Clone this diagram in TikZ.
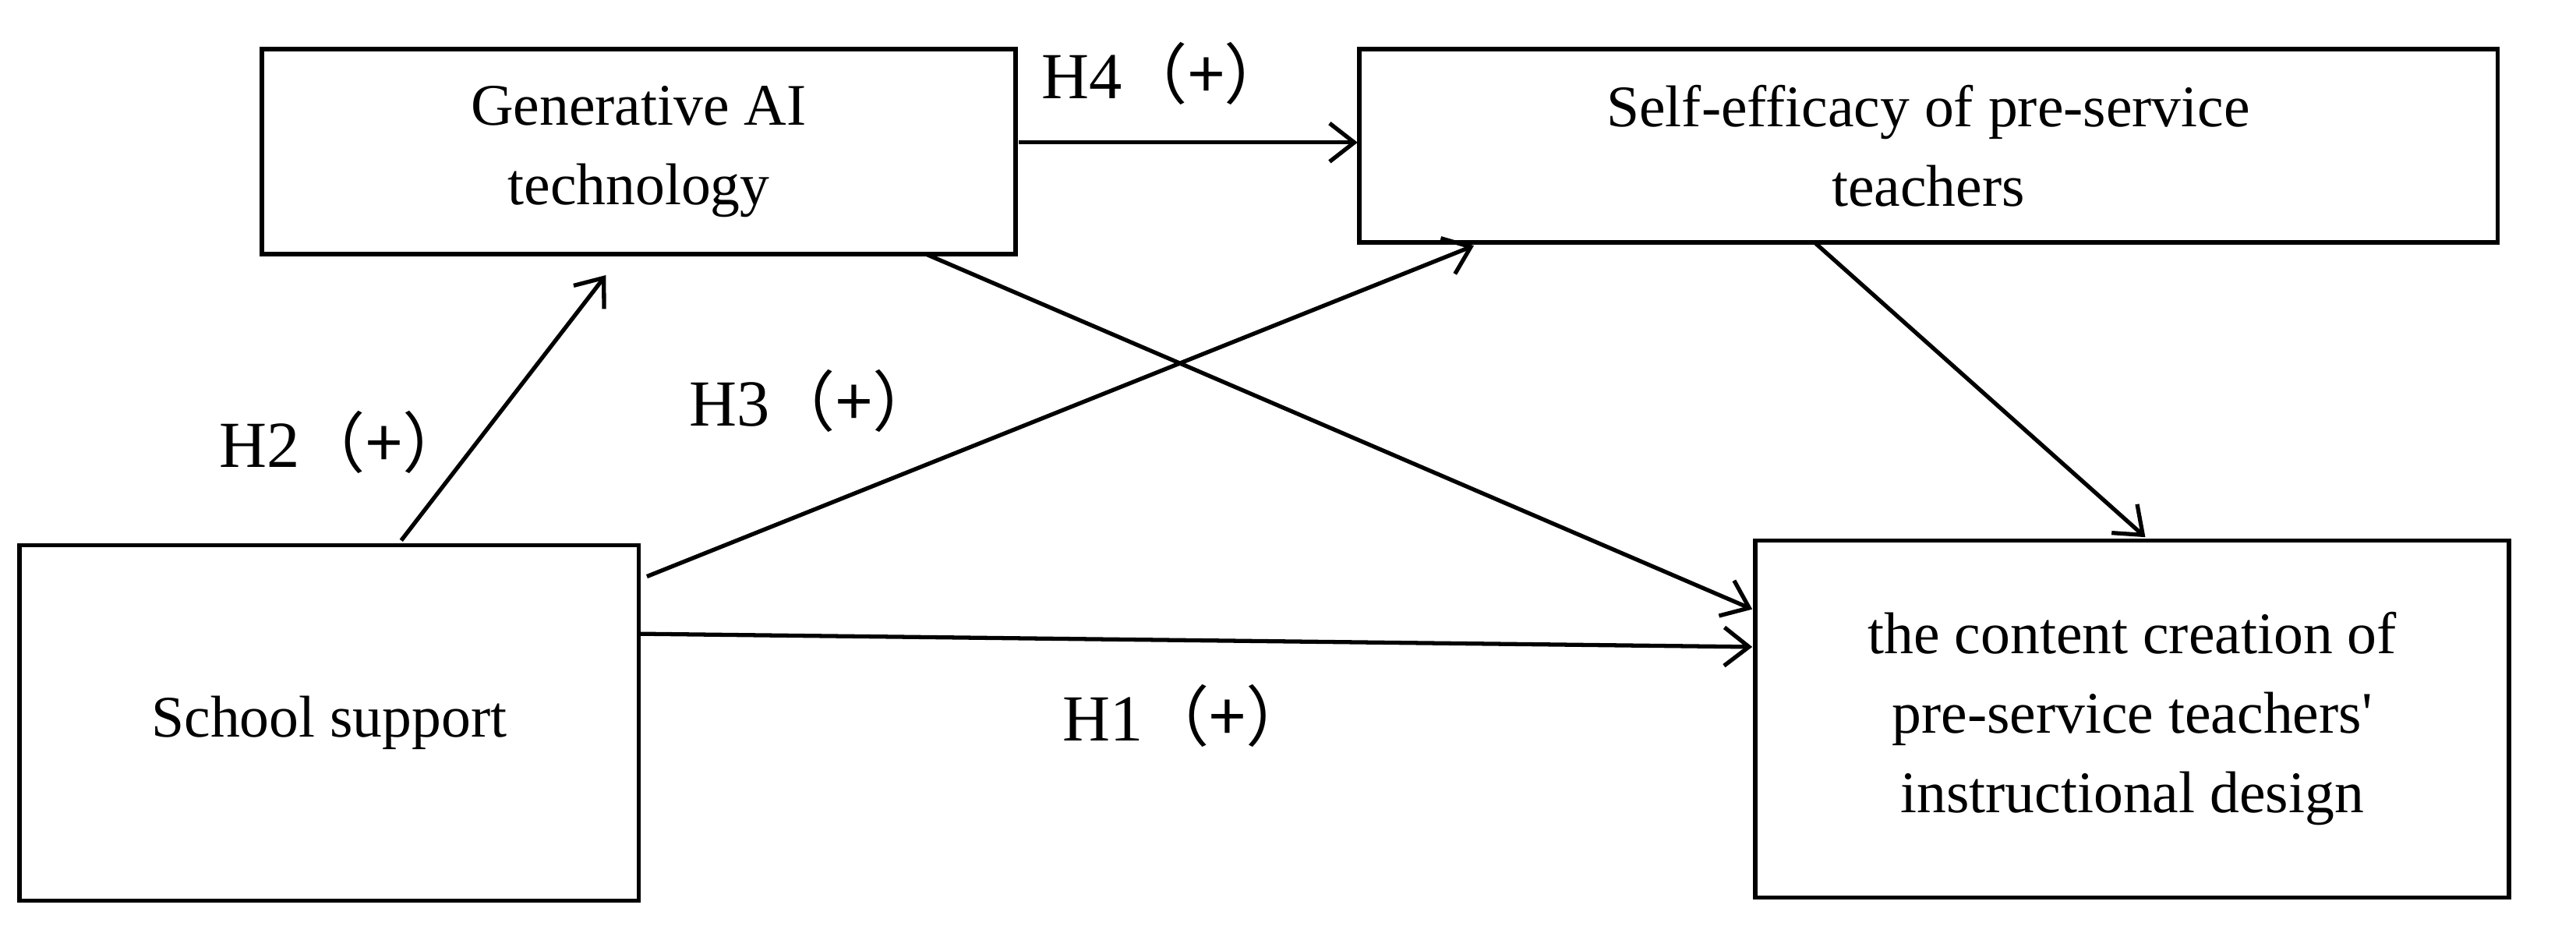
\documentclass[tikz,border=0pt]{standalone}
\usepackage{fontspec}
\setmainfont{Liberation Serif}
\newfontfamily\cjk{Noto Sans CJK SC}
\usetikzlibrary{arrows.meta}
\begin{document}
\begin{tikzpicture}[x=0.021cm,y=-0.021cm,
 box/.style={draw,line width=1.6pt,align=center,font=\fontsize{21.5}{29}\selectfont,inner sep=0pt},
 arr/.style={line width=1.5pt,-{Straight Barb[length=9pt,width=14pt,line width=1.5pt]}},
 lab/.style={font=\fontsize{24}{28}\selectfont}]
\useasboundingbox (0,0) rectangle (1573,565);
\node[box,minimum width=9.66cm,minimum height=2.625cm] (g) at (390,92.5) {Generative AI\\technology};
\node[box,minimum width=14.595cm,minimum height=2.478cm] (s) at (1177.5,89) {Self-efficacy of pre-service\\teachers};
\node[box,minimum width=7.938cm,minimum height=4.557cm] (sc) at (201,441.5) {School support};
\node[box,minimum width=9.66cm,minimum height=4.578cm] (c) at (1302,439) {the content creation of\\pre-service teachers\textquotesingle\\instructional design};
\coordinate (s1) at (622,87); \coordinate (e1) at (829,87);
\coordinate (s2) at (245,330); \coordinate (e2) at (370,168);
\coordinate (s3) at (395,352); \coordinate (e3) at (900,150);
\coordinate (s4) at (565,155); \coordinate (e4) at (1070,372);
\coordinate (s5) at (390,387); \coordinate (e5) at (1070,395);
\coordinate (s6) at (1108,148); \coordinate (e6) at (1310,328);
\draw[arr] (s1) -- (e1);
\draw[arr] (s2) -- (e2);
\draw[arr] (s3) -- (e3);
\draw[arr] (s4) -- (e4);
\draw[arr] (s5) -- (e5);
\draw[arr] (s6) -- (e6);
\node[lab] (h4) at (712,45) {H4{\cjk（+）}};
\node[lab] (h2) at (210,270) {H2{\cjk（+）}};
\node[lab] (h3) at (497,245) {H3{\cjk（+）}};
\node[lab] (h1) at (725,437) {H1{\cjk（+）}};
\end{tikzpicture}
\end{document}
